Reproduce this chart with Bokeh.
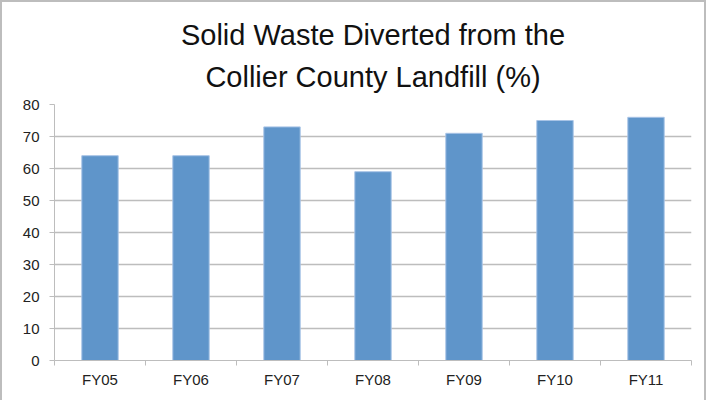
from bokeh.plotting import figure
from bokeh.models import FixedTicker, Title, Range1d, ColumnDataSource
from bokeh.embed import file_html
from bokeh.resources import INLINE

categories = ["FY05", "FY06", "FY07", "FY08", "FY09", "FY10", "FY11"]
values = [64, 64, 73, 59, 71, 75, 76]
y_ticks = [0, 10, 20, 30, 40, 50, 60, 70, 80]

centers = [i + 0.5 for i in range(len(categories))]
source = ColumnDataSource(data=dict(x=centers, top=values, cat=categories))

p = figure(width=706, height=400, output_backend="svg", toolbar_location=None,
           x_range=Range1d(0, len(categories)), y_range=Range1d(0, 80),
           min_border_left=52, min_border_right=17, min_border_bottom=42, min_border_top=102)
p.outline_line_color = None
p.background_fill_color = "white"
p.border_fill_color = "white"
p.styles = {"border-top": "2px solid #bdbdbd", "border-left": "2px solid #bdbdbd",
            "border-right": "2px solid #bdbdbd", "box-sizing": "border-box"}

p.vbar(x="x", top="top", width=0.4, bottom=0, source=source,
       fill_color="#5f95ca", line_color="#a8c4e6", line_width=1)

t2 = Title(text="Collier County Landfill (%)", align="center", text_font="Liberation Sans",
           text_font_size="29px", text_font_style="normal", text_color="#111111",
           standoff=24, text_line_height=1.0)
t1 = Title(text="Solid Waste Diverted from the", align="center", text_font="Liberation Sans",
           text_font_size="29px", text_font_style="normal", text_color="#111111",
           standoff=-9, text_line_height=1.0)
p.title.visible = False
p.add_layout(t2, "above")
p.add_layout(t1, "above")

# x axis
p.xaxis.ticker = FixedTicker(ticks=centers, minor_ticks=list(range(len(categories) + 1)))
p.xaxis.major_label_overrides = {c: lab for c, lab in zip(centers, categories)}
p.xaxis.major_tick_out = 0
p.xaxis.major_tick_in = 0
p.xaxis.minor_tick_out = 5
p.xaxis.minor_tick_in = 0
p.xaxis.minor_tick_line_color = "#bdbdbd"
p.xaxis.axis_line_color = "#bdbdbd"
p.xaxis.major_label_text_font = "Liberation Sans"
p.xaxis.major_label_text_font_size = "15px"
p.xaxis.major_label_text_color = "#222222"
p.xaxis.major_label_standoff = 5

# y axis
p.yaxis.ticker = FixedTicker(ticks=y_ticks, minor_ticks=[])
p.yaxis.major_tick_out = 5
p.yaxis.major_tick_in = 0
p.yaxis.major_tick_line_color = "#bdbdbd"
p.yaxis.axis_line_color = "#bdbdbd"
p.yaxis.major_label_text_font = "Liberation Sans"
p.yaxis.major_label_text_font_size = "15px"
p.yaxis.major_label_text_color = "#222222"
p.yaxis.major_label_standoff = 10

p.xgrid.visible = False
p.ygrid.ticker = FixedTicker(ticks=y_ticks[1:])
p.ygrid.grid_line_color = "#bdbdbd"
p.ygrid.grid_line_width = 1.5

open("out.html", "w").write(file_html(p, INLINE))
